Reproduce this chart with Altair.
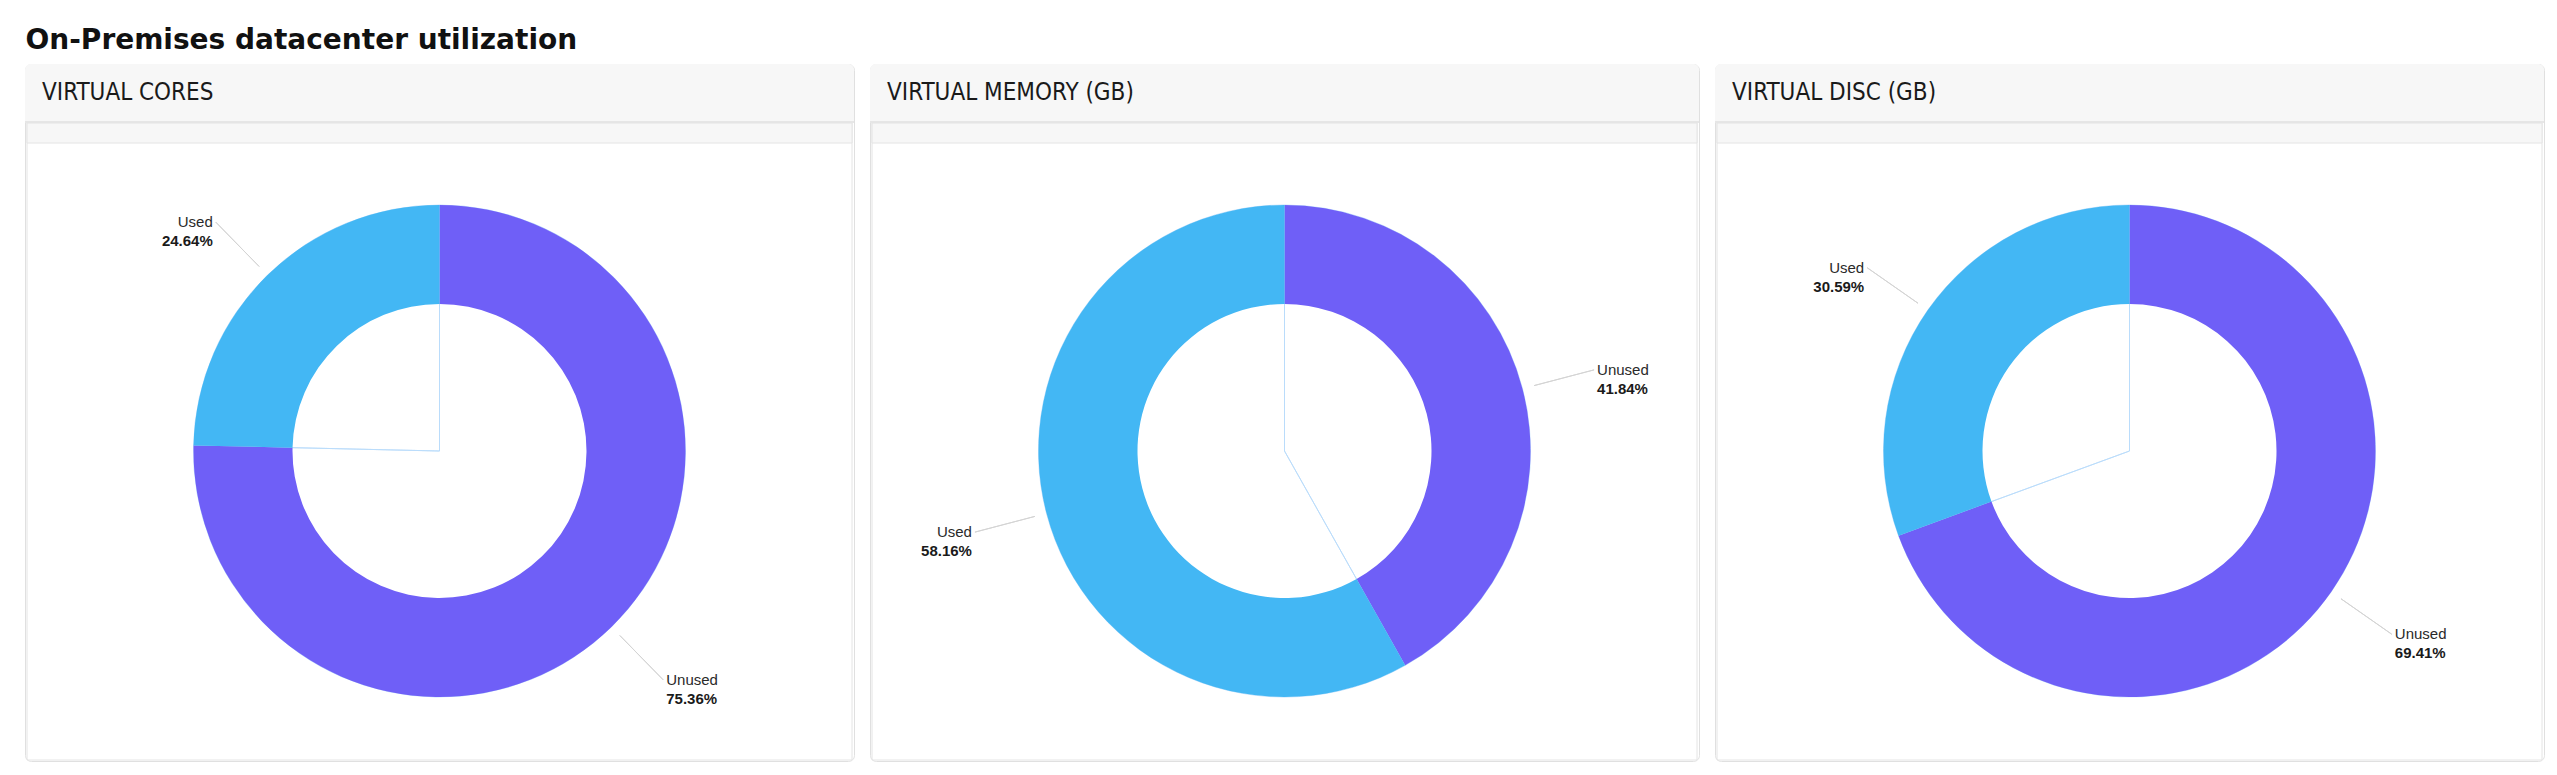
import math
import altair as alt
import pandas as pd

# ---- data ----
panels = ["VIRTUAL CORES", "VIRTUAL MEMORY (GB)", "VIRTUAL DISC (GB)"]
categories = ["Unused", "Used"]
unused_pct = [75.36, 41.84, 69.41]
used_pct = [24.64, 58.16, 30.59]
cat_colors = ["#6f5ff7", "#43b7f4"]
main_title = "On-Premises datacenter utilization"

rows = []
for i, p in enumerate(panels):
    for order, (cat, vals) in enumerate(zip(categories, [unused_pct, used_pct])):
        rows.append({"panel": p, "category": cat, "order": order, "value": vals[i]})
df = pd.DataFrame(rows)

W, H = 829, 697
CX, CY = W / 2, 387
R_OUT, R_IN = 246, 147

theta_scale = alt.Scale(domain=[0, 100], range=[0, 2 * math.pi])
color_scale = alt.Scale(domain=categories, range=cat_colors)


def panel_chart(name):
    base = (
        alt.Chart(df)
        .transform_filter(alt.datum.panel == name)
        .transform_window(cum="sum(value)", sort=[alt.SortField("order")], frame=[None, 0])
        .transform_calculate(
            start="datum.cum - datum.value",
            mid="datum.cum - datum.value / 2",
            mid2="datum.cum - datum.value / 2 + 0.002",
            pct="format(datum.value, '.2f') + '%'",
        )
    )
    hdr = alt.Chart(alt.Data(values=[{"title": name}]))

    header_bg = hdr.mark_rect(
        fill="#f7f7f7", cornerRadiusTopLeft=6, cornerRadiusTopRight=6
    ).encode(x=alt.value(0), x2=alt.value(W), y=alt.value(0), y2=alt.value(57))
    sep = hdr.mark_rect(fill="#e6e6e6").encode(
        x=alt.value(0), x2=alt.value(W), y=alt.value(57), y2=alt.value(59)
    )
    strip = hdr.mark_rect(fill="#f7f7f7", stroke="#e4e4e4", strokeWidth=1).encode(
        x=alt.value(2), x2=alt.value(W - 2), y=alt.value(59), y2=alt.value(79)
    )
    inner_box = hdr.mark_rect(fillOpacity=0, stroke="#e4e4e4", strokeWidth=1).encode(
        x=alt.value(2), x2=alt.value(W - 2), y=alt.value(59), y2=alt.value(H - 1)
    )
    header_txt = hdr.mark_text(
        align="left", baseline="middle", font="DejaVu Sans Condensed",
        fontSize=24, color="#1a1a1a"
    ).encode(x=alt.value(17), y=alt.value(29), text="title:N")

    ring = base.mark_arc(innerRadius=R_IN, outerRadius=R_OUT).encode(
        theta=alt.Theta("start:Q", scale=theta_scale),
        theta2="cum:Q",
        color=alt.Color("category:N", scale=color_scale, legend=None),
        x=alt.value(CX), y=alt.value(CY),
    )
    edges = base.mark_arc(
        innerRadius=0, outerRadius=R_OUT, fillOpacity=0,
        stroke="#b9dcfb", strokeWidth=1, strokeOpacity=0.9
    ).encode(
        theta=alt.Theta("start:Q", scale=theta_scale),
        theta2="cum:Q",
        x=alt.value(CX), y=alt.value(CY),
    )
    leader = base.mark_arc(
        innerRadius=258, outerRadius=320, fillOpacity=0,
        stroke="#d4d4d4", strokeWidth=1
    ).encode(
        theta=alt.Theta("mid:Q", scale=theta_scale),
        theta2="mid2:Q",
        x=alt.value(CX), y=alt.value(CY),
    )

    layers = [header_bg, sep, inner_box, strip, header_txt, edges, ring, leader]
    for cond, align, dx in [("datum.mid > 50", "right", -3), ("datum.mid <= 50", "left", 3)]:
        side = base.transform_filter(cond)
        name_txt = side.mark_text(
            radius=320, align=align, baseline="middle", dx=dx,
            font="Liberation Sans", fontSize=15, color="#2a2a2a"
        ).encode(
            theta=alt.Theta("mid:Q", scale=theta_scale, stack=False),
            x=alt.value(CX), y=alt.value(CY),
            text="category:N",
        )
        pct_txt = side.mark_text(
            radius=320, align=align, baseline="middle", dx=dx, dy=19,
            font="Liberation Sans", fontSize=15, fontWeight="bold", color="#1a1a1a"
        ).encode(
            theta=alt.Theta("mid:Q", scale=theta_scale, stack=False),
            x=alt.value(CX), y=alt.value(CY),
            text="pct:N",
        )
        layers += [name_txt, pct_txt]

    return alt.layer(*layers).properties(width=W, height=H)


chart = (
    alt.hconcat(*[panel_chart(p) for p in panels], spacing=14)
    .properties(
        title=alt.TitleParams(
            main_title, anchor="start", fontSize=28, font="DejaVu Sans",
            fontWeight=700, color="#111111", offset=9, dx=1
        ),
        padding={"left": 16, "top": 18, "right": 0, "bottom": 0},
        background="#ffffff",
    )
    .configure_view(stroke="#e0e0e0", strokeWidth=1, cornerRadius=6)
)

chart.save("out.html", embed_options={"renderer": "svg", "actions": False})
